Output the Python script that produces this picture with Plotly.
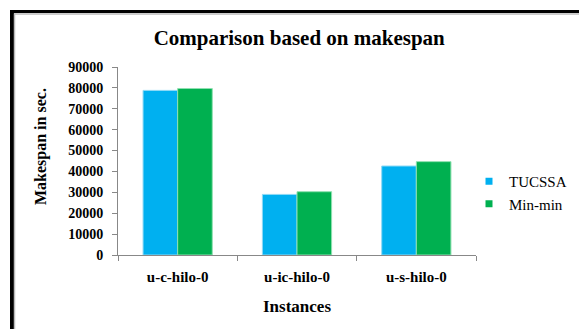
import plotly.graph_objects as go

categories = ["u-c-hilo-0", "u-ic-hilo-0", "u-s-hilo-0"]
tucssa = [78800, 29000, 42600]
minmin = [79700, 30300, 44700]
series_names = ["TUCSSA", "Min-min"]
colors = ["#00B0F0", "#00B050"]
edge_colors = ["#8FD9F5", "#8FE0B0"]
y_ticks = [0, 10000, 20000, 30000, 40000, 50000, 60000, 70000, 80000, 90000]
y_ticktext = ["0", "10000", "20000", "30000", "40000", "50000", "60000", "70000", "80000", "90000"]

W, H = 579, 329
L, R, T, B = 118, 103, 67, 74
pw, ph = W - L - R, H - T - B

def px(x):
    return (x - L) / pw

def py(y):
    return 1 - (y - T) / ph

fig = go.Figure()
for name, vals, c, ec in zip(series_names, [tucssa, minmin], colors, edge_colors):
    fig.add_trace(go.Bar(x=categories, y=vals, name=name, showlegend=False,
                         marker=dict(color=c, line=dict(color=ec, width=1))))
    fig.add_trace(go.Scatter(x=[None], y=[None], mode="markers", name=name,
                             marker=dict(symbol="square", size=7, color=c)))

serif = "Liberation Serif"

shapes = [
    dict(type="line", xref="paper", yref="paper", x0=px(12), x1=px(12), y0=py(10), y1=py(340),
         line=dict(color="black", width=4)),
    dict(type="line", xref="paper", yref="paper", x0=px(10), x1=px(600), y0=py(11.5), y1=py(11.5),
         line=dict(color="black", width=3)),
    dict(type="line", xref="paper", yref="paper", x0=px(14.5), x1=px(14.5), y0=py(13.5), y1=py(340),
         line=dict(color="#BBBBBB", width=1.5)),
    dict(type="line", xref="paper", yref="paper", x0=px(14), x1=px(600), y0=py(14), y1=py(14),
         line=dict(color="#BBBBBB", width=1.5)),
]

fig.update_layout(
    width=W, height=H,
    margin=dict(l=L, r=R, t=T, b=B, autoexpand=False),
    paper_bgcolor="white", plot_bgcolor="white",
    font=dict(family=serif, color="black"),
    barmode="group", bargap=0.42, bargroupgap=0,
    title=dict(text="<b>Comparison based on makespan</b>", x=px(303), xanchor="center",
               y=1 - 38 / H, yanchor="middle",
               font=dict(family=serif, size=21, color="black")),
    xaxis=dict(showline=True, linecolor="#888888", linewidth=1, ticks="outside",
               tickson="boundaries", ticklen=5, tickcolor="#888888", showgrid=False,
               automargin=False, ticklabelstandoff=8,
               tickfont=dict(family=serif, size=15, color="black"),
               tickprefix="<b>", ticksuffix="</b>",
               title=dict(text="<b>Instances</b>", font=dict(family=serif, size=17, color="black"),
                          standoff=16)),
    yaxis=dict(range=[0, 90000], tickvals=y_ticks, ticktext=["<b>" + t + "</b>" for t in y_ticktext],
               showline=True, linecolor="#888888", automargin=False, ticklabelstandoff=6,
               linewidth=1, ticks="outside", ticklen=5, tickcolor="#888888", showgrid=False,
               zeroline=False,
               tickfont=dict(family=serif, size=14, color="black")),
    legend=dict(x=px(469), y=py(165), xanchor="left", yanchor="top",
                font=dict(family=serif, size=15, color="black"),
                itemwidth=30, tracegroupgap=2, bgcolor="rgba(0,0,0,0)"),
    annotations=[dict(text="<b>Makespan in sec.</b>", textangle=-90, xref="paper", yref="paper",
                      x=px(41), y=py(147), xanchor="center", yanchor="middle", showarrow=False,
                      font=dict(family=serif, size=16, color="black"))],
    shapes=shapes,
)

fig.write_html("out.html")
